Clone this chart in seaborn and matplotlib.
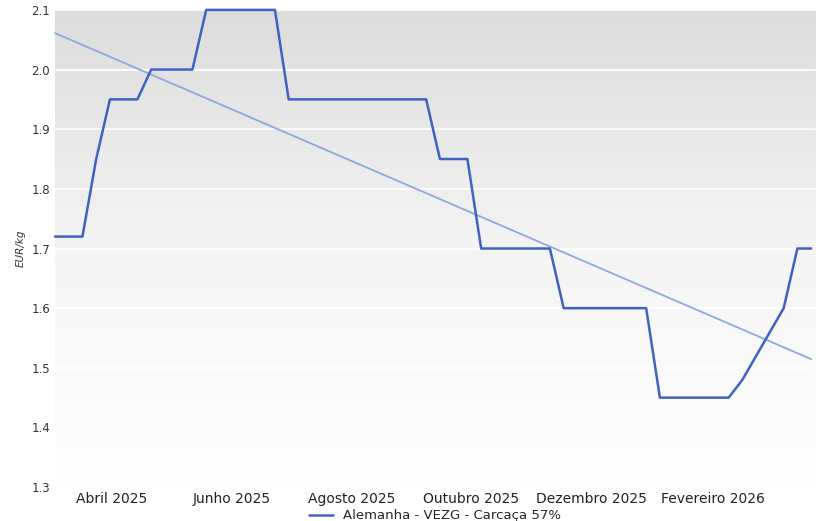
import numpy as np
import pandas as pd
import matplotlib.pyplot as plt
import matplotlib.dates as mdates
from matplotlib.colors import LinearSegmentedColormap
import seaborn as sns

# Weekly VEZG prices
dates = pd.date_range('2025-03-03', periods=56, freq='7D')
prices = [1.72, 1.72, 1.72, 1.85, 1.95, 1.95, 1.95, 2.00, 2.00, 2.00, 2.00,
          2.10, 2.10, 2.10, 2.10, 2.10, 2.10,
          1.95, 1.95, 1.95, 1.95, 1.95, 1.95, 1.95, 1.95, 1.95, 1.95, 1.95,
          1.85, 1.85, 1.85,
          1.70, 1.70, 1.70, 1.70, 1.70, 1.70,
          1.60, 1.60, 1.60, 1.60, 1.60, 1.60, 1.60,
          1.45, 1.45, 1.45, 1.45, 1.45, 1.45,
          1.48, 1.52, 1.56, 1.60, 1.70, 1.70]
month_ticks = ['2025-04-01', '2025-06-01', '2025-08-01', '2025-10-01', '2025-12-01', '2026-02-01']
month_labels = ['Abril 2025', 'Junho 2025', 'Agosto 2025', 'Outubro 2025', 'Dezembro 2025', 'Fevereiro 2026']

df = pd.DataFrame({'date': dates, 'price': prices})
xnum = mdates.date2num(df.date)
coef = np.polyfit(xnum, df.price, 1)
df['trend'] = np.polyval(coef, xnum)

sns.set_style('white')
fig = plt.figure(figsize=(8.2, 5.21), dpi=100)
ax = fig.add_axes([0.067, 0.065, 0.927, 0.916])

# gray gradient background (white at bottom, light gray at top)
cmap = LinearSegmentedColormap.from_list('bg', ['#ffffff', '#f4f4f4', '#dcdcdc'])
grad = np.linspace(0, 1, 256).reshape(-1, 1)
ax.imshow(grad, cmap=cmap, vmin=0, vmax=1, aspect='auto',
          extent=[xnum[0], xnum[-1] + 2, 1.3, 2.1], origin='lower', zorder=0)
for y in np.arange(1.3, 2.11, 0.1):
    ax.axhline(y, color='white', lw=1.2, zorder=1)

sns.lineplot(x=xnum, y=df.trend, ax=ax, color='#8fa8dc', lw=1.3, zorder=3)
sns.lineplot(x=xnum, y=df.price, ax=ax, color='#4062c0', lw=1.8, zorder=4,
             label='Alemanha - VEZG - Carcaça 57%')
for ln in ax.lines:
    ln.set_clip_on(False)

ax.set_xlim(xnum[0], xnum[-1] + 2)
ax.set_ylim(1.3, 2.1)
ax.set_yticks(np.arange(1.3, 2.11, 0.1))
ax.set_yticklabels([f'{v:.1f}' for v in np.arange(1.3, 2.11, 0.1)], fontsize=8.5, color='#333333')
ax.set_xticks(mdates.date2num(pd.to_datetime(month_ticks)))
ax.set_xticklabels(month_labels, fontsize=10, color='#222222')
ax.tick_params(length=0)
ax.set_ylabel('EUR/kg', fontsize=7.5, style='italic', color='#333333')
ax.set_xlabel('')
for s in ax.spines.values():
    s.set_visible(False)
ax.legend(loc='upper center', bbox_to_anchor=(0.5, -0.03), frameon=False,
          fontsize=9.5, handlelength=1.8, borderpad=0.1)

fig.savefig('out.png', dpi=100)
